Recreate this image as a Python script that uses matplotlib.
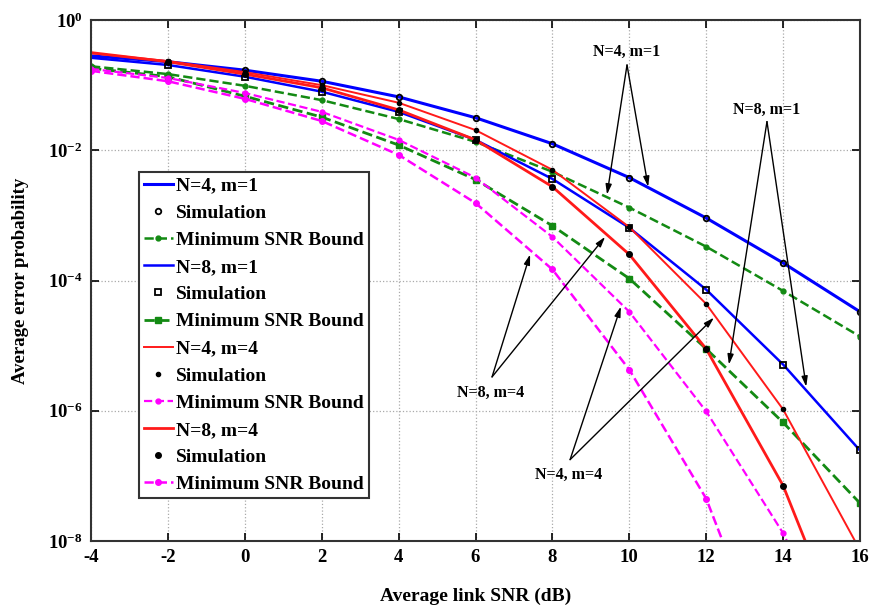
import numpy as np
import matplotlib
matplotlib.use("Agg")
import matplotlib.pyplot as plt

plt.rcParams['font.family'] = 'serif'
plt.rcParams['font.serif'] = ['Liberation Serif', 'DejaVu Serif']
plt.rcParams['font.weight'] = 'bold'
plt.rcParams['axes.unicode_minus'] = False
plt.rcParams['mathtext.fontset'] = 'custom'
plt.rcParams['mathtext.rm'] = 'Liberation Serif:bold'
plt.rcParams['mathtext.bf'] = 'Liberation Serif:bold'
plt.rcParams['mathtext.it'] = 'Liberation Serif:bold:italic'

# SNR grid (dB)
snr = [-4, -2, 0, 2, 4, 6, 8, 10, 12, 14, 16]

# log10 of average error probability
n4m1 = [-0.55, -0.64, -0.77, -0.94, -1.18, -1.50, -1.90, -2.42, -3.04, -3.73, -4.48]
n8m1 = [-0.58, -0.69, -0.87, -1.10, -1.41, -1.84, -2.44, -3.19, -4.14, -5.29, -6.61]
n4m4 = [-0.51, -0.63, -0.80, -1.00, -1.27, -1.69, -2.30, -3.18, -4.36, -5.98, -8.14]
n8m4 = [-0.50, -0.64, -0.83, -1.04, -1.38, -1.84, -2.56, -3.60, -5.05, -7.15, -10.1]

bnd_n4m1 = [-0.71, -0.83, -1.01, -1.23, -1.52, -1.87, -2.33, -2.88, -3.48, -4.16, -4.86]
bnd_n8m1 = [-0.74, -0.87, -1.17, -1.49, -1.92, -2.45, -3.16, -3.97, -5.05, -6.18, -7.42]
bnd_n4m4 = [-0.75, -0.89, -1.12, -1.41, -1.84, -2.42, -3.33, -4.48, -6.01, -7.88, -10.3]
bnd_n8m4 = [-0.78, -0.94, -1.21, -1.55, -2.07, -2.81, -3.83, -5.37, -7.35, -10.4, -13.5]

def p(v):
    return 10.0 ** np.array(v)

fig = plt.figure(figsize=(8.71, 6.07), dpi=100)
ax = fig.add_axes([0.1045, 0.1087, 0.8829, 0.8583])

blue = '#0000ff'
green = '#138a13'
red = '#ff1a1a'
mag = '#ff00ff'
x = np.array(snr)

ax.plot(x, p(n4m1), color=blue, lw=2.2, label='N=4, m=1')
ax.plot(x[1:], p(n4m1)[1:], 'o', color='k', mfc='none', ms=4, mew=1.3, label='Simulation')
ax.plot(x, p(bnd_n4m1), '--', color=green, lw=1.8, marker='.', ms=7, label='Minimum SNR Bound')
ax.plot(x, p(n8m1), color=blue, lw=1.8, label='N=8, m=1')
ax.plot(x[1:], p(n8m1)[1:], 's', color='k', mfc='none', ms=4, mew=1.3, label='Simulation')
ax.plot(x, p(bnd_n8m1), '--', color=green, lw=2.0, marker='s', ms=4, label='Minimum SNR Bound')
ax.plot(x, p(n4m4), color=red, lw=1.4, label='N=4, m=4')
ax.plot(x[1:], p(n4m4)[1:], '.', color='k', ms=6, label='Simulation')
ax.plot(x, p(bnd_n4m4), '--', color=mag, lw=1.6, marker='.', ms=7, label='Minimum SNR Bound')
ax.plot(x, p(n8m4), color=red, lw=2.0, label='N=8, m=4')
ax.plot(x[1:], p(n8m4)[1:], '.', color='k', ms=8, label='Simulation')
ax.plot(x, p(bnd_n8m4), '--', color=mag, lw=1.8, marker='.', ms=8, label='Minimum SNR Bound')

ax.set_yscale('log')
ax.set_xlim(-4, 16)
ax.set_ylim(1e-8, 1)
ax.set_xticks(range(-4, 17, 2))
ax.set_xticklabels([str(v) for v in range(-4, 17, 2)])
ax.set_yticks([1e-8, 1e-6, 1e-4, 1e-2, 1])
ax.set_yticklabels([r'$10^{-8}$', r'$10^{-6}$', r'$10^{-4}$', r'$10^{-2}$', r'$10^{0}$'])
ax.minorticks_off()
ax.tick_params(direction='in', top=True, right=True, length=6, width=1.2,
               labelsize=13.5, pad=6)
ax.grid(True, ls=':', color='#aaaaaa', lw=0.9)
for s in ax.spines.values():
    s.set_linewidth(1.5)
    s.set_color('#333333')

ax.set_xlabel('Average link SNR (dB)', fontsize=14, fontweight='bold', va='center')
ax.xaxis.set_label_coords(0.5, -0.106)
ax.set_ylabel('Average error probability', fontsize=13.5, fontweight='bold', va='center')
ax.yaxis.set_label_coords(-0.092, 0.5)

leg = ax.legend(loc='upper left', bbox_to_anchor=(0.0624, 0.708), borderaxespad=0,
                fontsize=14, handlelength=1.5, handletextpad=0.15, labelspacing=0.49,
                fancybox=False, framealpha=1, edgecolor='#333333', borderpad=0.25)
leg.get_frame().set_linewidth(1.5)

# annotations: label, text pos, arrow start, two arrow tips
notes = [
    ('N=4, m=1', (9.94, -0.49), (9.94, -0.69), [(9.42, -2.68), (10.49, -2.56)]),
    ('N=8, m=1', (13.58, -1.38), (13.58, -1.56), [(12.59, -5.29), (14.60, -5.63)]),
    ('N=8, m=4', (6.38, -5.72), (6.43, -5.48), [(7.42, -3.60), (9.37, -3.33)]),
    ('N=4, m=4', (8.41, -6.98), (8.46, -6.75), [(9.78, -4.40), (12.20, -4.57)]),
]
for label, tpos, start, tips in notes:
    ax.text(tpos[0], 10 ** tpos[1], label, fontsize=11.5, fontweight='bold',
            ha='center', va='center')
    for tip in tips:
        ax.annotate('', xy=(tip[0], 10 ** tip[1]), xytext=(start[0], 10 ** start[1]),
                    arrowprops=dict(arrowstyle='-|>,head_length=0.6,head_width=0.18',
                                    color='k', lw=1.0, shrinkA=0, shrinkB=0))

fig.savefig('out.png', dpi=100)
